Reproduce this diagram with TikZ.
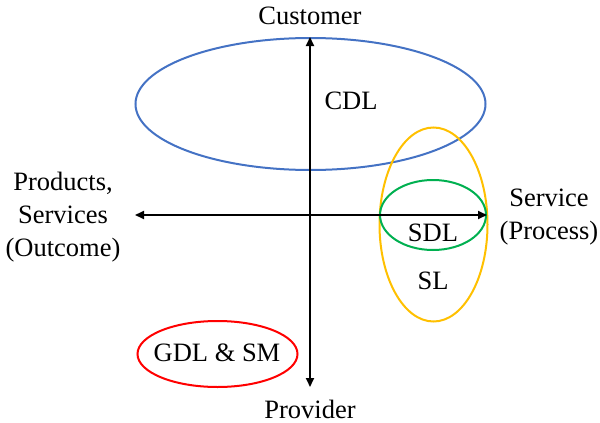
\documentclass[tikz,border=0pt]{standalone}
\usepackage{fontspec}
\setmainfont{Liberation Serif}
\usetikzlibrary{arrows.meta}
\definecolor{cblue}{HTML}{4472C4}
\definecolor{cyellow}{HTML}{FFC000}
\definecolor{cgreen}{HTML}{00B050}
\definecolor{cred}{HTML}{FF0000}
\tikzset{
  lbl/.style={font=\fontsize{26.5}{33}\selectfont, inner sep=0pt, align=center},
  axis/.style={line width=2pt, -{Triangle[length=9pt,width=8pt]}},
  ell/.style={line width=2pt},
}
\begin{document}
\begin{tikzpicture}[x=1pt,y=-1pt]
\useasboundingbox (0,0) rectangle (600,423);
% ellipses
\draw[ell, cblue] (310.5,104) ellipse [x radius=175, y radius=66];
\draw[ell, cyellow] (433.5,224.5) ellipse [x radius=54, y radius=97];
\draw[ell, cgreen] (433,215) ellipse [x radius=53, y radius=35];
\draw[ell, cred] (217.5,354) ellipse [x radius=80, y radius=33];
% axes
\coordinate (o) at (310,215);
\coordinate (top) at (310,37);
\coordinate (bot) at (310,387);
\coordinate (lft) at (135,215);
\coordinate (rgt) at (487,215);
\draw[axis] (o) -- (top);
\draw[axis] (o) -- (bot);
\draw[axis] (o) -- (lft);
\draw[axis] (o) -- (rgt);
% labels
\node[lbl] (cust) at (310,16) {Customer};
\node[lbl] (prov) at (310,409) {Provider};
\node[lbl] (prod) at (63,217) {Products,\\Services\\(Outcome)};
\node[lbl] (serv) at (549,217) {Service\\(Process)};
\node[lbl] (cdl) at (351,101) {CDL};
\node[lbl] (sdl) at (433,233) {SDL};
\node[lbl] (sl) at (433,281) {SL};
\node[lbl] (gdl) at (217,353) {GDL \& SM};
\end{tikzpicture}
\end{document}
